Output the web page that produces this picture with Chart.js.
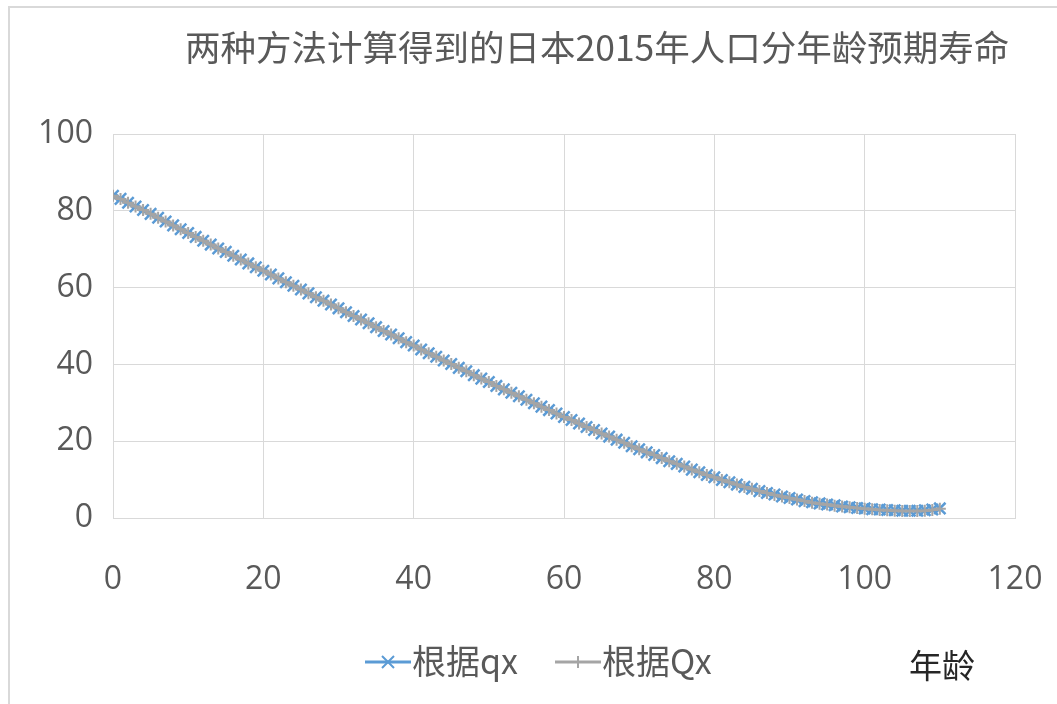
<!DOCTYPE html>
<html>
<head>
<meta charset="utf-8">
<script src="https://cdn.jsdelivr.net/npm/chart.js@4/dist/chart.umd.min.js"></script>
<style>
    body { margin: 0; background: #fff; }
    #wrap { position: relative; width: 1057px; height: 704px; overflow: hidden; }
    #frame { position: absolute; left: 8px; top: 6px; width: 1100px; height: 760px;
             border-left: 2px solid #d9d9d9; border-top: 2px solid #d9d9d9; }
    #title { position: absolute; left: 185px; top: 20px; font: 35.5px "Noto Sans CJK SC"; color: #595959;
             white-space: nowrap; }
    #xname { position: absolute; left: 909px; top: 640px; font: 33px "Noto Sans CJK SC"; color: #262626; }
    .leg { position: absolute; top: 635px; font: 34px "Noto Sans CJK SC"; color: #595959; white-space: nowrap; }
    .leg canvas { vertical-align: middle; margin-right: 0; position: relative; top: -3px; }
    #chart { position: absolute; left: 0; top: 0; }
</style>
</head>
<body>
<div id="wrap">
    <div id="frame"></div>
    <canvas id="chart" width="1057" height="704"></canvas>
    <div id="title">两种方法计算得到的日本2015年人口分年龄预期寿命</div>
    <div class="leg" style="left:364px"><canvas id="legA" width="48" height="20"></canvas>根据qx</div>
    <div class="leg" style="left:554px"><canvas id="legB" width="48" height="20"></canvas>根据Qx</div>
    <div id="xname">年龄</div>
</div>
<script>
// ages 0..110
const ages = [
    0, 1, 2, 3, 4, 5, 6, 7, 8, 9, 10, 11, 12, 13, 14, 15, 16, 17, 18, 19,
    20, 21, 22, 23, 24, 25, 26, 27, 28, 29, 30, 31, 32, 33, 34, 35, 36, 37, 38, 39,
    40, 41, 42, 43, 44, 45, 46, 47, 48, 49, 50, 51, 52, 53, 54, 55, 56, 57, 58, 59,
    60, 61, 62, 63, 64, 65, 66, 67, 68, 69, 70, 71, 72, 73, 74, 75, 76, 77, 78, 79,
    80, 81, 82, 83, 84, 85, 86, 87, 88, 89, 90, 91, 92, 93, 94, 95, 96, 97, 98, 99,
    100, 101, 102, 103, 104, 105, 106, 107, 108, 109, 110
];

// life expectancy from qx
const lifeQx = [
    83.9, 83.1, 82.1, 81.1, 80.2, 79.2, 78.2, 77.2, 76.2, 75.2,
    74.2, 73.2, 72.2, 71.2, 70.2, 69.3, 68.3, 67.3, 66.3, 65.3,
    64.4, 63.4, 62.4, 61.4, 60.5, 59.5, 58.5, 57.5, 56.6, 55.6,
    54.6, 53.6, 52.6, 51.7, 50.7, 49.7, 48.7, 47.8, 46.8, 45.8,
    44.9, 43.9, 42.9, 42.0, 41.0, 40.1, 39.1, 38.2, 37.2, 36.3,
    35.4, 34.4, 33.5, 32.6, 31.7, 30.8, 29.9, 29.0, 28.1, 27.2,
    26.3, 25.5, 24.6, 23.7, 22.9, 22.0, 21.2, 20.4, 19.6, 18.7,
    17.9, 17.1, 16.4, 15.6, 14.8, 14.1, 13.4, 12.6, 11.9, 11.2,
    10.6, 9.9, 9.3, 8.7, 8.1, 7.6, 7.0, 6.5, 6.1, 5.6,
    5.2, 4.8, 4.4, 4.1, 3.8, 3.5, 3.3, 3.0, 2.8, 2.6,
    2.5, 2.3, 2.2, 2.1, 2.0, 1.9, 1.9, 1.9, 2.0, 2.2,
    2.5
];

// life expectancy from Qx
const lifeQX = [
    83.9, 83.1, 82.1, 81.1, 80.2, 79.2, 78.2, 77.2, 76.2, 75.2,
    74.2, 73.2, 72.2, 71.2, 70.2, 69.3, 68.3, 67.3, 66.3, 65.3,
    64.4, 63.4, 62.4, 61.4, 60.5, 59.5, 58.5, 57.5, 56.6, 55.6,
    54.6, 53.6, 52.6, 51.7, 50.7, 49.7, 48.7, 47.8, 46.8, 45.8,
    44.9, 43.9, 42.9, 42.0, 41.0, 40.1, 39.1, 38.2, 37.2, 36.3,
    35.4, 34.4, 33.5, 32.6, 31.7, 30.8, 29.9, 29.0, 28.1, 27.2,
    26.3, 25.5, 24.6, 23.7, 22.9, 22.0, 21.2, 20.4, 19.6, 18.7,
    17.9, 17.1, 16.4, 15.6, 14.8, 14.1, 13.4, 12.6, 11.9, 11.2,
    10.6, 9.9, 9.3, 8.7, 8.1, 7.6, 7.0, 6.5, 6.0, 5.6,
    5.2, 4.8, 4.4, 4.0, 3.7, 3.5, 3.2, 3.0, 2.8, 2.6,
    2.4, 2.3, 2.1, 2.0, 1.9, 1.8, 1.8, 1.8, 1.9, 2.1,
    2.4
];

const yTicks = [0, 20, 40, 60, 80, 100];
const xTicks = [0, 20, 40, 60, 80, 100, 120];

const BLUE = '#5b9bd5';
const GREY = '#a5a5a5';
const TEXT = '#595959';
const GRID = '#d9d9d9';

function legendSwatch(id, color, style) {
    const c = document.getElementById(id).getContext('2d');
    c.strokeStyle = color;
    c.lineWidth = 3;
    c.beginPath();
    c.moveTo(1, 10);
    c.lineTo(47, 10);
    c.stroke();
    c.lineWidth = 2;
    c.beginPath();
    if (style === 'x') {
        c.moveTo(18, 4); c.lineTo(30, 16);
        c.moveTo(30, 4); c.lineTo(18, 16);
    } else {
        c.moveTo(24, 4); c.lineTo(24, 16);
    }
    c.stroke();
}
legendSwatch('legA', BLUE, 'x');
legendSwatch('legB', GREY, '+');

const toPoints = vals => ages.map((a, i) => ({ x: a, y: vals[i] }));

new Chart(document.getElementById('chart'), {
    type: 'line',
    data: {
        datasets: [
            {
                label: '根据qx',
                data: toPoints(lifeQx),
                borderColor: BLUE,
                backgroundColor: BLUE,
                borderWidth: 3,
                pointStyle: 'crossRot',
                pointRadius: 8,
                pointBorderWidth: 2.5,
                pointBorderColor: BLUE,
                order: 2
            },
            {
                label: '根据Qx',
                data: toPoints(lifeQX),
                borderColor: GREY,
                backgroundColor: GREY,
                borderWidth: 3,
                pointStyle: 'cross',
                pointRadius: 6,
                pointBorderWidth: 2,
                pointBorderColor: GREY,
                order: 1
            }
        ]
    },
    options: {
        responsive: false,
        animation: false,
        layout: { padding: { top: 134, left: 0, right: 42, bottom: 96 } },
        plugins: {
            legend: { display: false },
            title: { display: false },
            tooltip: { enabled: false }
        },
        scales: {
            x: {
                type: 'linear',
                min: 0,
                max: 120,
                afterBuildTicks: s => { s.ticks = xTicks.map(v => ({ value: v })); },
                afterFit: s => { s.height = 90; s.paddingLeft = 0; s.paddingRight = 0; },
                grid: { color: GRID, lineWidth: 1, drawTicks: false },
                border: { color: GRID, width: 1 },
                ticks: { color: TEXT, padding: 43, font: { family: 'Open Sans', size: 32 } }
            },
            y: {
                min: 0,
                max: 100,
                afterBuildTicks: s => { s.ticks = yTicks.map(v => ({ value: v })); },
                afterFit: s => { s.width = 113; s.paddingTop = 0; s.paddingBottom = 0; },
                grid: { color: GRID, lineWidth: 1, drawTicks: false },
                border: { color: GRID, width: 1 },
                ticks: { color: TEXT, padding: 20, font: { family: 'Open Sans', size: 32 } }
            }
        }
    }
});
</script>
</body>
</html>
